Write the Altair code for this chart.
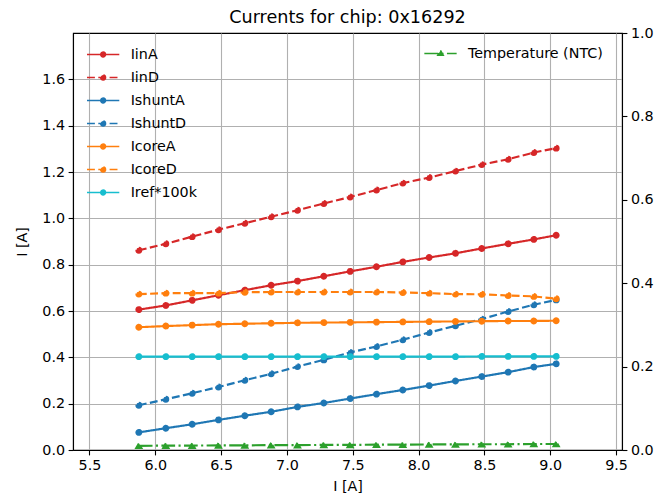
import altair as alt
import pandas as pd

# ---------------- data ----------------
x_vals = [5.875, 6.08, 6.28, 6.48, 6.68, 6.88, 7.08, 7.28, 7.48, 7.68,
          7.88, 8.08, 8.28, 8.48, 8.68, 8.875, 9.045]

iin_a = [0.606, 0.624, 0.646, 0.668, 0.690, 0.711, 0.729, 0.750, 0.771, 0.791,
         0.812, 0.831, 0.849, 0.870, 0.890, 0.909, 0.927]
iin_d = [0.862, 0.890, 0.921, 0.951, 0.979, 1.007, 1.035, 1.064, 1.092, 1.122,
         1.152, 1.176, 1.204, 1.232, 1.255, 1.284, 1.303]
ishunt_a = [0.076, 0.094, 0.111, 0.130, 0.148, 0.165, 0.186, 0.203, 0.222, 0.241,
            0.259, 0.278, 0.298, 0.317, 0.336, 0.358, 0.372]
ishunt_d = [0.193, 0.219, 0.245, 0.272, 0.301, 0.329, 0.360, 0.389, 0.421, 0.447,
            0.476, 0.507, 0.536, 0.565, 0.598, 0.627, 0.648]
icore_a = [0.530, 0.535, 0.539, 0.543, 0.545, 0.547, 0.549, 0.550, 0.551, 0.552,
           0.553, 0.554, 0.555, 0.556, 0.557, 0.557, 0.558]
icore_d = [0.673, 0.677, 0.677, 0.677, 0.681, 0.682, 0.682, 0.682, 0.682, 0.682,
           0.680, 0.677, 0.673, 0.672, 0.667, 0.663, 0.653]
iref = [0.403, 0.403, 0.403, 0.403, 0.403, 0.403, 0.403, 0.403, 0.403, 0.403,
        0.403, 0.403, 0.403, 0.404, 0.404, 0.404, 0.404]
temperature = [0.018, 0.019, 0.019, 0.020, 0.020, 0.021, 0.021, 0.022, 0.022, 0.023,
               0.023, 0.024, 0.024, 0.025, 0.025, 0.026, 0.026]

series_names = ["IinA", "IinD", "IshuntA", "IshuntD", "IcoreA", "IcoreD", "Iref*100k"]
series_values = [iin_a, iin_d, ishunt_a, ishunt_d, icore_a, icore_d, iref]
temp_name = "Temperature (NTC)"

x_ticks = [5.5, 6.0, 6.5, 7.0, 7.5, 8.0, 8.5, 9.0, 9.5]
y_ticks = [0.0, 0.2, 0.4, 0.6, 0.8, 1.0, 1.2, 1.4, 1.6]
y2_ticks = [0.0, 0.2, 0.4, 0.6, 0.8, 1.0]
title_text = "Currents for chip: 0x16292"

# ---------------- styles ----------------
RED, BLUE, ORANGE, CYAN, GREEN = "#d62728", "#1f77b4", "#ff7f0e", "#17becf", "#2ca02c"
SOLID = [1, 0]
DASHED = [7.9, 3.4]
DASHDOT = [13.7, 3.4, 2.1, 3.4]
series_colors = [RED, RED, BLUE, BLUE, ORANGE, ORANGE, CYAN]
series_dashes = [SOLID, DASHED, SOLID, DASHED, SOLID, DASHED, SOLID]
FONT = "DejaVu Sans"
FS = 14.3

rows = []
for k, (name, vals) in enumerate(zip(series_names, series_values)):
    for xv, yv in zip(x_vals, vals):
        rows.append({"x": xv, "y": yv, "series": name, "k": k})
df = pd.DataFrame(rows)
tdf = pd.DataFrame({"x": x_vals, "y": temperature, "series": [temp_name] * len(x_vals)})

x_scale = alt.Scale(domain=[5.375, 9.545], nice=False, zero=False)
x_enc = alt.X("x:Q", scale=x_scale,
              axis=alt.Axis(values=x_ticks, format=".1f", title="I [A]", grid=True,
                            labelFlush=False, labelOverlap=False, titlePadding=7))
y_scale = alt.Scale(domain=[0, 1.8], nice=False, zero=True)
y_axis_enc = alt.Y("y:Q", scale=y_scale,
                   axis=alt.Axis(values=y_ticks, format=".1f", title="I [A]", grid=True,
                                 labelOverlap=False, titlePadding=12))
y_enc = alt.Y("y:Q", scale=y_scale, axis=None)

LEG_SIZE = 841
circ_path = ("M-1.114,0L1.114,0M0.166,0A0.166,0.166,0,1,1,-0.166,0"
             "A0.166,0.166,0,1,1,0.166,0Z")
tri_path = "M-1.114,0L1.114,0M0,-0.213L0.19,0.123L-0.19,0.123Z"

cur_legend = alt.Legend(title=None, orient="none", legendX=14.65, legendY=6,
                        symbolType=circ_path, symbolSize=LEG_SIZE,
                        labelFontSize=FS, labelFont=FONT, labelColor="black",
                        labelOffset=12, rowPadding=0, padding=0)
tmp_legend = alt.Legend(title=None, orient="none", legendX=352, legendY=5,
                        symbolType=tri_path, symbolSize=LEG_SIZE,
                        labelFontSize=FS, labelFont=FONT, labelColor="black",
                        labelOffset=12, padding=0)

color_scale = alt.Scale(domain=series_names, range=series_colors)
dash_scale = alt.Scale(domain=series_names, range=series_dashes)

base = alt.Chart(df)
cur_lines = base.mark_line(strokeWidth=2.15).encode(
    x=x_enc, y=y_axis_enc,
    color=alt.Color("series:N", scale=color_scale, legend=None),
    strokeDash=alt.StrokeDash("series:N", scale=dash_scale, legend=None),
    detail="series:N",
)
cur_points = base.mark_point(filled=True, size=24, strokeWidth=2, opacity=1).encode(
    x=x_enc, y=y_enc,
    color=alt.Color("series:N", scale=color_scale, legend=cur_legend),
    stroke=alt.Stroke("series:N", scale=color_scale, legend=cur_legend),
    strokeDash=alt.StrokeDash("series:N", scale=dash_scale, legend=cur_legend),
    order=alt.Order("k:Q"),
)

tcolor = alt.Scale(domain=[temp_name], range=[GREEN])
tdash = alt.Scale(domain=[temp_name], range=[DASHDOT])
tbase = alt.Chart(tdf)
t_line = tbase.mark_line(strokeWidth=2.15).encode(
    x=x_enc, y=y_enc,
    color=alt.Color("series:N", scale=tcolor, legend=None),
    strokeDash=alt.StrokeDash("series:N", scale=tdash, legend=None),
)
t_points = tbase.mark_point(filled=True, shape="triangle-up", size=28, strokeWidth=2,
                            opacity=1).encode(
    x=x_enc, y=y_enc,
    color=alt.Color("series:N", scale=tcolor, legend=tmp_legend),
    stroke=alt.Stroke("series:N", scale=tcolor, legend=tmp_legend),
    strokeDash=alt.StrokeDash("series:N", scale=tdash, legend=tmp_legend),
)

right_axis = tbase.mark_point(opacity=0).encode(
    x=x_enc,
    y=alt.Y(datum=0, type="quantitative",
            scale=alt.Scale(domain=[0, 1], nice=False),
            axis=alt.Axis(orient="right", values=y2_ticks, format=".1f",
                          title=None, grid=False, labelOverlap=False)),
)

chart = alt.layer(cur_lines, cur_points, t_line, t_points, right_axis).resolve_scale(
    y="independent", color="independent", stroke="independent",
    strokeDash="independent",
).properties(
    width=549, height=417,
    title=alt.TitleParams(title_text, fontSize=17.6, font=FONT, fontWeight="normal",
                          color="black", anchor="middle", frame="group", offset=-1),
    autosize=alt.AutoSizeParams(type="none"),
    padding={"left": 73, "top": 33, "right": 37, "bottom": 45},
).configure(font=FONT).configure_view(
    stroke="black", strokeWidth=1.1
).configure_axis(
    gridColor="#b0b0b0", gridWidth=1.1, gridOpacity=1,
    tickSize=4.9, tickWidth=1.1, tickColor="black",
    domainColor="black", domainWidth=1.1,
    labelFont=FONT, labelFontSize=FS, labelColor="black", labelPadding=3.5,
    titleFont=FONT, titleFontSize=FS, titleFontWeight="normal", titleColor="black",
)

chart.save("out.html", embed_options={"renderer": "svg", "actions": False})
